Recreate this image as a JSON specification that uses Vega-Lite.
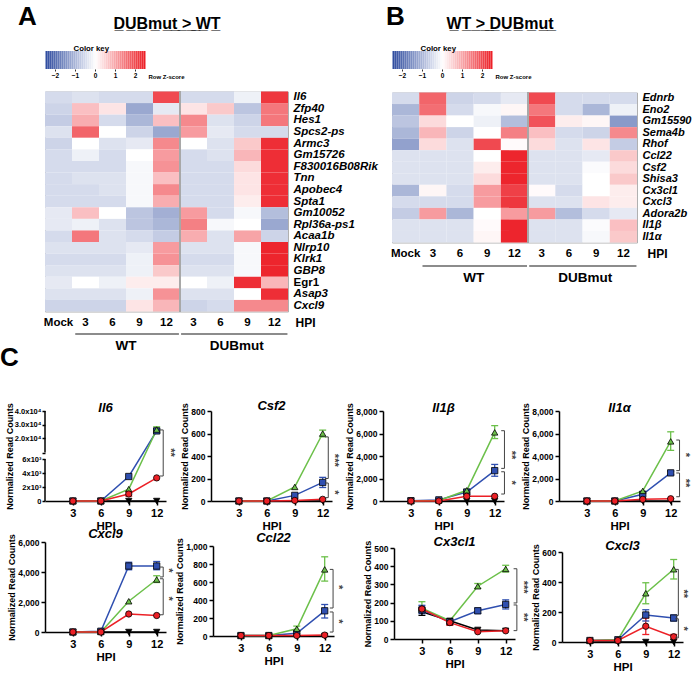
{
"$schema":"https://vega.github.io/schema/vega-lite/v6.json",
"padding":{"left":0,"top":4,"right":2,"bottom":0},
"columns":1,
"align":"none",
"spacing":-9,
"resolve":{"scale":{"color":"independent"}},
"datasets":{
"key":[{"z":-2.45},{"z":-2.35},{"z":-2.25},{"z":-2.15},{"z":-2.05},{"z":-1.95},{"z":-1.85},{"z":-1.75},{"z":-1.65},{"z":-1.55},{"z":-1.45},{"z":-1.35},{"z":-1.25},{"z":-1.15},{"z":-1.05},{"z":-0.95},{"z":-0.85},{"z":-0.75},{"z":-0.65},{"z":-0.55},{"z":-0.45},{"z":-0.35},{"z":-0.25},{"z":-0.15},{"z":-0.05},{"z":0.05},{"z":0.15},{"z":0.25},{"z":0.35},{"z":0.45},{"z":0.55},{"z":0.65},{"z":0.75},{"z":0.85},{"z":0.95},{"z":1.05},{"z":1.15},{"z":1.25},{"z":1.35},{"z":1.45},{"z":1.55},{"z":1.65},{"z":1.75},{"z":1.85},{"z":1.95},{"z":2.05},{"z":2.15},{"z":2.25},{"z":2.35},{"z":2.45}],
"grp":[{"lab":"WT","from":1.12,"to":4.96,"mid":3.0},{"lab":"DUBmut","from":5.04,"to":8.98,"mid":7.1}],
"axbrk":[{"v":0,"v2":6000},{"v":9700,"v2":40000}],
"hA":[
{"g":"Il6","M":-0.5,"W3":-0.4,"W6":-0.5,"W9":-0.5,"W12":2.0,"D3":-0.5,"D6":-0.5,"D9":-0.2,"D12":2.2},
{"g":"Zfp40","M":-0.6,"W3":0.7,"W6":0.3,"W9":-1.2,"W12":-0.3,"D3":0.3,"D6":0.6,"D9":-0.8,"D12":1.5},
{"g":"Hes1","M":-0.7,"W3":0.9,"W6":-0.5,"W9":-1.0,"W12":0.7,"D3":1.3,"D6":-0.4,"D9":-0.6,"D12":1.5},
{"g":"Spcs2-ps","M":-0.4,"W3":1.7,"W6":0.0,"W9":-0.6,"W12":-1.2,"D3":1.1,"D6":-0.3,"D9":-0.5,"D12":-0.5},
{"g":"Armc3","M":-0.6,"W3":0.0,"W6":-0.4,"W9":-0.3,"W12":1.3,"D3":0.0,"D6":-0.4,"D9":0.6,"D12":2.3},
{"g":"Gm15726","M":-0.5,"W3":-0.2,"W6":-0.5,"W9":0.0,"W12":1.1,"D3":-0.5,"D6":-0.4,"D9":0.8,"D12":2.3},
{"g":"F830016B08Rik","M":-0.5,"W3":-0.5,"W6":-0.5,"W9":-0.1,"W12":1.2,"D3":-0.5,"D6":-0.5,"D9":0.4,"D12":2.3},
{"g":"Tnn","M":-0.5,"W3":-0.4,"W6":-0.4,"W9":-0.1,"W12":0.7,"D3":-0.5,"D6":-0.5,"D9":0.3,"D12":2.3},
{"g":"Apobec4","M":-0.5,"W3":-0.5,"W6":-0.4,"W9":-0.1,"W12":1.3,"D3":-0.5,"D6":-0.5,"D9":0.3,"D12":2.3},
{"g":"Spta1","M":-0.5,"W3":-0.5,"W6":-0.5,"W9":-0.1,"W12":0.9,"D3":-0.5,"D6":-0.5,"D9":0.2,"D12":2.3},
{"g":"Gm10052","M":-0.3,"W3":0.7,"W6":0.0,"W9":-0.8,"W12":-1.1,"D3":1.1,"D6":-0.5,"D9":-0.1,"D12":-0.9},
{"g":"Rpl36a-ps1","M":-0.3,"W3":-0.2,"W6":-0.4,"W9":-0.8,"W12":-1.0,"D3":1.4,"D6":-0.1,"D9":0.0,"D12":-1.2},
{"g":"Acaa1b","M":-0.5,"W3":1.5,"W6":-0.4,"W9":-0.5,"W12":-0.7,"D3":0.9,"D6":-0.4,"D9":1.0,"D12":-0.6},
{"g":"Nlrp10","M":-0.4,"W3":-0.4,"W6":-0.4,"W9":-0.3,"W12":1.1,"D3":-0.4,"D6":-0.4,"D9":-0.1,"D12":2.4},
{"g":"Klrk1","M":-0.5,"W3":-0.5,"W6":-0.5,"W9":-0.2,"W12":1.2,"D3":-0.5,"D6":-0.5,"D9":-0.1,"D12":2.4},
{"g":"GBP8","M":-0.4,"W3":-0.4,"W6":-0.4,"W9":-0.2,"W12":0.6,"D3":-0.4,"D6":-0.4,"D9":-0.1,"D12":2.4},
{"g":"Egr1","M":-0.3,"W3":0.0,"W6":-0.2,"W9":0.2,"W12":0.2,"D3":0.0,"D6":-0.2,"D9":2.3,"D12":0.8},
{"g":"Asap3","M":-0.4,"W3":-0.4,"W6":-0.4,"W9":-0.2,"W12":1.2,"D3":-0.4,"D6":-0.4,"D9":0.0,"D12":2.3},
{"g":"Cxcl9","M":-0.6,"W3":-0.6,"W6":-0.6,"W9":0.3,"W12":0.8,"D3":-0.6,"D6":-0.5,"D9":1.3,"D12":1.3}],
"hB":[
{"g":"Ednrb","M":-0.5,"W3":1.7,"W6":-0.6,"W9":-0.5,"W12":-0.3,"D3":2.0,"D6":-0.5,"D9":-0.5,"D12":-0.5},
{"g":"Eno2","M":-1.0,"W3":1.6,"W6":-0.5,"W9":-0.1,"W12":0.1,"D3":1.5,"D6":-0.5,"D9":-1.0,"D12":-0.2},
{"g":"Gm15590","M":-0.8,"W3":0.4,"W6":0.0,"W9":-0.2,"W12":-0.9,"D3":1.9,"D6":0.2,"D9":0.1,"D12":-1.4},
{"g":"Sema4b","M":-1.0,"W3":0.8,"W6":-0.6,"W9":0.0,"W12":1.4,"D3":0.7,"D6":-0.5,"D9":-0.6,"D12":1.3},
{"g":"Rhof","M":-1.3,"W3":0.4,"W6":-0.4,"W9":2.0,"W12":0.05,"D3":0.4,"D6":-0.4,"D9":0.3,"D12":-0.7},
{"g":"Ccl22","M":-0.4,"W3":-0.4,"W6":-0.4,"W9":0.0,"W12":2.4,"D3":-0.4,"D6":-0.4,"D9":-0.3,"D12":0.6},
{"g":"Csf2","M":-0.4,"W3":-0.4,"W6":-0.4,"W9":0.2,"W12":2.4,"D3":-0.4,"D6":-0.4,"D9":-0.05,"D12":0.4},
{"g":"Shisa3","M":-0.4,"W3":-0.4,"W6":-0.4,"W9":0.4,"W12":2.4,"D3":-0.4,"D6":-0.4,"D9":0.0,"D12":0.6},
{"g":"Cx3cl1","M":-1.0,"W3":0.1,"W6":-0.5,"W9":1.1,"W12":2.1,"D3":0.05,"D6":-0.5,"D9":0.0,"D12":0.2},
{"g":"Cxcl3","M":-0.5,"W3":-0.5,"W6":-0.5,"W9":1.1,"W12":2.2,"D3":-0.4,"D6":-0.4,"D9":0.3,"D12":0.2},
{"g":"Adora2b","M":-0.7,"W3":1.1,"W6":-1.0,"W9":0.0,"W12":1.1,"D3":1.1,"D6":-0.9,"D9":-0.5,"D12":-0.3},
{"g":"Il1β","M":-0.4,"W3":-0.4,"W6":-0.4,"W9":0.05,"W12":2.4,"D3":-0.4,"D6":-0.4,"D9":-0.05,"D12":0.7},
{"g":"Il1α","M":-0.4,"W3":-0.4,"W6":-0.4,"W9":0.1,"W12":2.4,"D3":-0.4,"D6":-0.4,"D9":-0.1,"D12":0.6}],
"L":[
{"g":"Il6","k":"p","s":"Mock","h":3,"v":0},{"g":"Il6","k":"p","s":"Mock","h":6,"v":0},{"g":"Il6","k":"p","s":"Mock","h":9,"v":0},{"g":"Il6","k":"p","s":"Mock","h":12,"v":0},
{"g":"Il6","k":"p","s":"WT","h":3,"v":0},{"g":"Il6","k":"p","s":"WT","h":6,"v":0},{"g":"Il6","k":"p","s":"WT","h":9,"v":3500},{"g":"Il6","k":"p","s":"WT","h":12,"v":25500},
{"g":"Il6","k":"p","s":"DUBmut","h":3,"v":0},{"g":"Il6","k":"p","s":"DUBmut","h":6,"v":0},{"g":"Il6","k":"p","s":"DUBmut","h":9,"v":1700},{"g":"Il6","k":"p","s":"DUBmut","h":12,"v":26500},
{"g":"Il6","k":"p","s":"EndoUmut","h":3,"v":0},{"g":"Il6","k":"p","s":"EndoUmut","h":6,"v":0},{"g":"Il6","k":"p","s":"EndoUmut","h":9,"v":1000},{"g":"Il6","k":"p","s":"EndoUmut","h":12,"v":3300},
{"g":"Il6","k":"e","s":"WT","h":12,"v":24000,"v2":27000},{"g":"Il6","k":"e","s":"DUBmut","h":12,"v":25500,"v2":28500},{"g":"Il6","k":"e","s":"EndoUmut","h":9,"v":700,"v2":1300},
{"g":"Il6","k":"b","v":3570,"v2":26200,"m":9700,"lab":"**"},
{"g":"Csf2","k":"p","s":"Mock","h":3,"v":0},{"g":"Csf2","k":"p","s":"Mock","h":6,"v":0},{"g":"Csf2","k":"p","s":"Mock","h":9,"v":0},{"g":"Csf2","k":"p","s":"Mock","h":12,"v":0},
{"g":"Csf2","k":"p","s":"WT","h":3,"v":0},{"g":"Csf2","k":"p","s":"WT","h":6,"v":0},{"g":"Csf2","k":"p","s":"WT","h":9,"v":50},{"g":"Csf2","k":"p","s":"WT","h":12,"v":165},
{"g":"Csf2","k":"p","s":"DUBmut","h":3,"v":0},{"g":"Csf2","k":"p","s":"DUBmut","h":6,"v":0},{"g":"Csf2","k":"p","s":"DUBmut","h":9,"v":125},{"g":"Csf2","k":"p","s":"DUBmut","h":12,"v":600},
{"g":"Csf2","k":"p","s":"EndoUmut","h":3,"v":0},{"g":"Csf2","k":"p","s":"EndoUmut","h":6,"v":0},{"g":"Csf2","k":"p","s":"EndoUmut","h":9,"v":5},{"g":"Csf2","k":"p","s":"EndoUmut","h":12,"v":15},
{"g":"Csf2","k":"e","s":"WT","h":12,"v":120,"v2":210},{"g":"Csf2","k":"e","s":"DUBmut","h":12,"v":570,"v2":630},
{"g":"Csf2","k":"b","v":200,"v2":570,"m":362,"lab":"***"},{"g":"Csf2","k":"b","v":30,"v2":160,"m":77,"lab":"*"},
{"g":"Il1b","k":"p","s":"Mock","h":3,"v":0},{"g":"Il1b","k":"p","s":"Mock","h":6,"v":0},{"g":"Il1b","k":"p","s":"Mock","h":9,"v":0},{"g":"Il1b","k":"p","s":"Mock","h":12,"v":0},
{"g":"Il1b","k":"p","s":"WT","h":3,"v":30},{"g":"Il1b","k":"p","s":"WT","h":6,"v":100},{"g":"Il1b","k":"p","s":"WT","h":9,"v":800},{"g":"Il1b","k":"p","s":"WT","h":12,"v":2700},
{"g":"Il1b","k":"p","s":"DUBmut","h":3,"v":0},{"g":"Il1b","k":"p","s":"DUBmut","h":6,"v":50},{"g":"Il1b","k":"p","s":"DUBmut","h":9,"v":950},{"g":"Il1b","k":"p","s":"DUBmut","h":12,"v":6100},
{"g":"Il1b","k":"p","s":"EndoUmut","h":3,"v":0},{"g":"Il1b","k":"p","s":"EndoUmut","h":6,"v":0},{"g":"Il1b","k":"p","s":"EndoUmut","h":9,"v":420},{"g":"Il1b","k":"p","s":"EndoUmut","h":12,"v":420},
{"g":"Il1b","k":"e","s":"WT","h":12,"v":2200,"v2":3250},{"g":"Il1b","k":"e","s":"DUBmut","h":12,"v":5550,"v2":6700},{"g":"Il1b","k":"e","s":"WT","h":9,"v":600,"v2":1000},
{"g":"Il1b","k":"b","v":2900,"v2":6250,"m":4090,"lab":"**"},{"g":"Il1b","k":"b","v":620,"v2":2600,"m":1630,"lab":"*"},
{"g":"Il1a","k":"p","s":"Mock","h":3,"v":0},{"g":"Il1a","k":"p","s":"Mock","h":6,"v":0},{"g":"Il1a","k":"p","s":"Mock","h":9,"v":0},{"g":"Il1a","k":"p","s":"Mock","h":12,"v":0},
{"g":"Il1a","k":"p","s":"WT","h":3,"v":0},{"g":"Il1a","k":"p","s":"WT","h":6,"v":0},{"g":"Il1a","k":"p","s":"WT","h":9,"v":600},{"g":"Il1a","k":"p","s":"WT","h":12,"v":2500},
{"g":"Il1a","k":"p","s":"DUBmut","h":3,"v":0},{"g":"Il1a","k":"p","s":"DUBmut","h":6,"v":0},{"g":"Il1a","k":"p","s":"DUBmut","h":9,"v":900},{"g":"Il1a","k":"p","s":"DUBmut","h":12,"v":5300},
{"g":"Il1a","k":"p","s":"EndoUmut","h":3,"v":0},{"g":"Il1a","k":"p","s":"EndoUmut","h":6,"v":0},{"g":"Il1a","k":"p","s":"EndoUmut","h":9,"v":150},{"g":"Il1a","k":"p","s":"EndoUmut","h":12,"v":200},
{"g":"Il1a","k":"e","s":"WT","h":12,"v":2350,"v2":2650},{"g":"Il1a","k":"e","s":"DUBmut","h":12,"v":4500,"v2":6150},
{"g":"Il1a","k":"b","v":2700,"v2":5420,"m":4090,"lab":"*"},{"g":"Il1a","k":"b","v":380,"v2":2490,"m":1600,"lab":"**"},
{"g":"Cxcl9","k":"p","s":"Mock","h":3,"v":0},{"g":"Cxcl9","k":"p","s":"Mock","h":6,"v":0},{"g":"Cxcl9","k":"p","s":"Mock","h":9,"v":0},{"g":"Cxcl9","k":"p","s":"Mock","h":12,"v":0},
{"g":"Cxcl9","k":"p","s":"WT","h":3,"v":0},{"g":"Cxcl9","k":"p","s":"WT","h":6,"v":50},{"g":"Cxcl9","k":"p","s":"WT","h":9,"v":4400},{"g":"Cxcl9","k":"p","s":"WT","h":12,"v":4400},
{"g":"Cxcl9","k":"p","s":"DUBmut","h":3,"v":0},{"g":"Cxcl9","k":"p","s":"DUBmut","h":6,"v":0},{"g":"Cxcl9","k":"p","s":"DUBmut","h":9,"v":2050},{"g":"Cxcl9","k":"p","s":"DUBmut","h":12,"v":3500},
{"g":"Cxcl9","k":"p","s":"EndoUmut","h":3,"v":0},{"g":"Cxcl9","k":"p","s":"EndoUmut","h":6,"v":0},{"g":"Cxcl9","k":"p","s":"EndoUmut","h":9,"v":1200},{"g":"Cxcl9","k":"p","s":"EndoUmut","h":12,"v":1100},
{"g":"Cxcl9","k":"e","s":"WT","h":9,"v":4150,"v2":4650},{"g":"Cxcl9","k":"e","s":"WT","h":12,"v":4150,"v2":4700},{"g":"Cxcl9","k":"e","s":"DUBmut","h":12,"v":3300,"v2":3750},
{"g":"Cxcl9","k":"b","v":3670,"v2":4330,"m":4100,"lab":"*"},{"g":"Cxcl9","k":"b","v":1150,"v2":3550,"m":2220,"lab":"*"},
{"g":"Ccl22","k":"p","s":"Mock","h":3,"v":0},{"g":"Ccl22","k":"p","s":"Mock","h":6,"v":0},{"g":"Ccl22","k":"p","s":"Mock","h":9,"v":0},{"g":"Ccl22","k":"p","s":"Mock","h":12,"v":0},
{"g":"Ccl22","k":"p","s":"WT","h":3,"v":5},{"g":"Ccl22","k":"p","s":"WT","h":6,"v":5},{"g":"Ccl22","k":"p","s":"WT","h":9,"v":30},{"g":"Ccl22","k":"p","s":"WT","h":12,"v":280},
{"g":"Ccl22","k":"p","s":"DUBmut","h":3,"v":5},{"g":"Ccl22","k":"p","s":"DUBmut","h":6,"v":5},{"g":"Ccl22","k":"p","s":"DUBmut","h":9,"v":80},{"g":"Ccl22","k":"p","s":"DUBmut","h":12,"v":740},
{"g":"Ccl22","k":"p","s":"EndoUmut","h":3,"v":5},{"g":"Ccl22","k":"p","s":"EndoUmut","h":6,"v":5},{"g":"Ccl22","k":"p","s":"EndoUmut","h":9,"v":5},{"g":"Ccl22","k":"p","s":"EndoUmut","h":12,"v":10},
{"g":"Ccl22","k":"e","s":"WT","h":12,"v":200,"v2":350},{"g":"Ccl22","k":"e","s":"DUBmut","h":12,"v":610,"v2":880},{"g":"Ccl22","k":"e","s":"DUBmut","h":9,"v":50,"v2":110},
{"g":"Ccl22","k":"b","v":311,"v2":740,"m":544,"lab":"*"},{"g":"Ccl22","k":"b","v":44,"v2":267,"m":162,"lab":"*"},
{"g":"Cx3cl1","k":"p","s":"Mock","h":3,"v":150},{"g":"Cx3cl1","k":"p","s":"Mock","h":6,"v":100},{"g":"Cx3cl1","k":"p","s":"Mock","h":9,"v":50},{"g":"Cx3cl1","k":"p","s":"Mock","h":12,"v":45},
{"g":"Cx3cl1","k":"p","s":"WT","h":3,"v":160},{"g":"Cx3cl1","k":"p","s":"WT","h":6,"v":95},{"g":"Cx3cl1","k":"p","s":"WT","h":9,"v":155},{"g":"Cx3cl1","k":"p","s":"WT","h":12,"v":190},
{"g":"Cx3cl1","k":"p","s":"DUBmut","h":3,"v":170},{"g":"Cx3cl1","k":"p","s":"DUBmut","h":6,"v":100},{"g":"Cx3cl1","k":"p","s":"DUBmut","h":9,"v":290},{"g":"Cx3cl1","k":"p","s":"DUBmut","h":12,"v":385},
{"g":"Cx3cl1","k":"p","s":"EndoUmut","h":3,"v":165},{"g":"Cx3cl1","k":"p","s":"EndoUmut","h":6,"v":90},{"g":"Cx3cl1","k":"p","s":"EndoUmut","h":9,"v":40},{"g":"Cx3cl1","k":"p","s":"EndoUmut","h":12,"v":45},
{"g":"Cx3cl1","k":"e","s":"Mock","h":3,"v":130,"v2":170},{"g":"Cx3cl1","k":"e","s":"WT","h":3,"v":140,"v2":185},{"g":"Cx3cl1","k":"e","s":"DUBmut","h":3,"v":150,"v2":205},{"g":"Cx3cl1","k":"e","s":"EndoUmut","h":6,"v":75,"v2":105},{"g":"Cx3cl1","k":"e","s":"WT","h":9,"v":140,"v2":170},{"g":"Cx3cl1","k":"e","s":"WT","h":12,"v":165,"v2":215},{"g":"Cx3cl1","k":"e","s":"DUBmut","h":9,"v":278,"v2":305},{"g":"Cx3cl1","k":"e","s":"DUBmut","h":12,"v":368,"v2":405},
{"g":"Cx3cl1","k":"b","v":198,"v2":386,"m":285,"lab":"***"},{"g":"Cx3cl1","k":"b","v":46,"v2":187,"m":120,"lab":"**"},
{"g":"Cxcl3","k":"p","s":"Mock","h":3,"v":0},{"g":"Cxcl3","k":"p","s":"Mock","h":6,"v":0},{"g":"Cxcl3","k":"p","s":"Mock","h":9,"v":0},{"g":"Cxcl3","k":"p","s":"Mock","h":12,"v":0},
{"g":"Cxcl3","k":"p","s":"WT","h":3,"v":10},{"g":"Cxcl3","k":"p","s":"WT","h":6,"v":15},{"g":"Cxcl3","k":"p","s":"WT","h":9,"v":180},{"g":"Cxcl3","k":"p","s":"WT","h":12,"v":160},
{"g":"Cxcl3","k":"p","s":"DUBmut","h":3,"v":10},{"g":"Cxcl3","k":"p","s":"DUBmut","h":6,"v":15},{"g":"Cxcl3","k":"p","s":"DUBmut","h":9,"v":325},{"g":"Cxcl3","k":"p","s":"DUBmut","h":12,"v":485},
{"g":"Cxcl3","k":"p","s":"EndoUmut","h":3,"v":10},{"g":"Cxcl3","k":"p","s":"EndoUmut","h":6,"v":10},{"g":"Cxcl3","k":"p","s":"EndoUmut","h":9,"v":105},{"g":"Cxcl3","k":"p","s":"EndoUmut","h":12,"v":35},
{"g":"Cxcl3","k":"e","s":"WT","h":9,"v":140,"v2":215},{"g":"Cxcl3","k":"e","s":"WT","h":12,"v":140,"v2":180},{"g":"Cxcl3","k":"e","s":"DUBmut","h":9,"v":255,"v2":395},{"g":"Cxcl3","k":"e","s":"DUBmut","h":12,"v":420,"v2":550},{"g":"Cxcl3","k":"e","s":"EndoUmut","h":9,"v":50,"v2":160},{"g":"Cxcl3","k":"e","s":"EndoUmut","h":12,"v":20,"v2":50},
{"g":"Cxcl3","k":"b","v":177,"v2":484,"m":322,"lab":"**"},{"g":"Cxcl3","k":"b","v":27,"v2":155,"m":89,"lab":"*"}
]
},
"concat":[
{"spacing":8,"hconcat":[
 {"title":{"text":"A","anchor":"start","frame":"group","fontSize":26,"fontStyle":"normal","dx":-27,"offset":-14},
  "bounds":"flush","spacing":22.5,
  "vconcat":[
   {"width":100,"height":18,"data":{"name":"key"},
    "title":{"text":"D\u0332U\u0332B\u0332m\u0332u\u0332t\u0332 \u0332>\u0332 \u0332W\u0332T\u0332","anchor":"middle","frame":"group","dx":72,"fontSize":16,"fontStyle":"normal","offset":12},
    "mark":"rect",
    "encoding":{
     "x":{"field":"z","type":"quantitative","bin":{"step":0.1,"extent":[-2.5,2.5]},"axis":{"values":[-2,-1,0,1,2],"format":"d","domain":false,"tickSize":2,"tickWidth":0.8,"labelFontSize":6.5,"labelFont":"Liberation Sans","labelPadding":1,"title":"Color key","titleFont":"Liberation Sans","titleFontSize":7.8,"titleX":28,"titleY":-25,"titleAlign":"left"}},
     "y":{"datum":"k","type":"nominal","axis":{"orient":"right","labels":false,"ticks":false,"domain":false,"title":"Row Z-score","titleAngle":0,"titleAlign":"left","titleBaseline":"middle","titleX":3,"titleY":25,"titleFontSize":6,"titleFont":"Liberation Sans"}},
     "color":{"field":"z","type":"quantitative","scale":{"domain":[-2.5,0,2.5],"range":["#2d4a9e","#ffffff","#ec1c24"],"interpolate":"rgb","clamp":true},"legend":null}}},
   {"width":243,"height":220,"data":{"name":"hA"},"view":{"stroke":"#b0b0b0"},
    "transform":[{"fold":["M","W3","W6","W9","W12","D3","D6","D9","D12"],"as":["c","z"]}],
    "layer":[
     {"mark":"rect","encoding":{
      "x":{"field":"c","type":"ordinal","sort":["M","W3","W6","W9","W12","D3","D6","D9","D12"],"scale":{"paddingInner":0,"paddingOuter":0},"axis":{"labelExpr":"datum.label=='M'?'Mock':slice(datum.label,1)","labelAngle":0,"domain":false,"ticks":false,"labelFontSize":11.5,"labelPadding":5,"title":"HPI","titleFontSize":12,"titleX":250,"titleY":11,"titleAlign":"left","titleBaseline":"middle"}},
      "y":{"field":"g","type":"ordinal","sort":null,"axis":{"orient":"right","domain":false,"ticks":false,"title":null,"labelFont":"Liberation Sans","labelFontSize":11.5,"labelPadding":5,"labelFontStyle":{"condition":{"test":"datum.value=='Egr1'","value":"normal"},"value":"italic"}}},
      "color":{"field":"z","type":"quantitative","scale":{"domain":[-2.5,0,2.5],"range":["#2d4a9e","#ffffff","#ec1c24"],"interpolate":"rgb","clamp":true},"legend":null}}},
     {"mark":{"type":"rule","color":"#a8a8a8","strokeWidth":1.5},"encoding":{"x":{"datum":"D3","type":"ordinal","bandPosition":0}}}
    ]},
   {"width":243,"height":16,"data":{"name":"grp"},
    "layer":[
     {"mark":{"type":"rule","color":"#666","strokeWidth":1.3},"encoding":{"x":{"field":"from","type":"quantitative","scale":{"domain":[0,9]},"axis":null},"x2":{"field":"to"},"y":{"datum":1,"type":"quantitative","scale":{"domain":[0,1]},"axis":null}}},
     {"mark":{"type":"text","fontSize":13.5,"fontWeight":"bold","baseline":"middle"},"encoding":{"x":{"field":"mid","type":"quantitative"},"y":{"datum":0.22,"type":"quantitative"},"text":{"field":"lab"}}}
    ]}
  ]},
 {"title":{"text":"B","anchor":"start","frame":"group","fontSize":26,"fontStyle":"normal","dx":-6,"offset":-14},
  "bounds":"flush","spacing":23.5,
  "vconcat":[
   {"width":100,"height":18,"data":{"name":"key"},
    "title":{"text":"W\u0332T\u0332 \u0332>\u0332 \u0332D\u0332U\u0332B\u0332m\u0332u\u0332t\u0332","anchor":"middle","frame":"group","dx":58,"fontSize":16,"fontStyle":"normal","offset":12},
    "mark":"rect",
    "encoding":{
     "x":{"field":"z","type":"quantitative","bin":{"step":0.1,"extent":[-2.5,2.5]},"axis":{"values":[-2,-1,0,1,2],"format":"d","domain":false,"tickSize":2,"tickWidth":0.8,"labelFontSize":6.5,"labelFont":"Liberation Sans","labelPadding":1,"title":"Color key","titleFont":"Liberation Sans","titleFontSize":7.8,"titleX":28,"titleY":-25,"titleAlign":"left"}},
     "y":{"datum":"k","type":"nominal","axis":{"orient":"right","labels":false,"ticks":false,"domain":false,"title":"Row Z-score","titleAngle":0,"titleAlign":"left","titleBaseline":"middle","titleX":3,"titleY":25,"titleFontSize":6,"titleFont":"Liberation Sans"}},
     "color":{"field":"z","type":"quantitative","scale":{"domain":[-2.5,0,2.5],"range":["#2d4a9e","#ffffff","#ec1c24"],"interpolate":"rgb","clamp":true},"legend":null}}},
   {"width":245,"height":150,"data":{"name":"hB"},"view":{"stroke":"#b0b0b0"},
    "transform":[{"fold":["M","W3","W6","W9","W12","D3","D6","D9","D12"],"as":["c","z"]}],
    "layer":[
     {"mark":"rect","encoding":{
      "x":{"field":"c","type":"ordinal","sort":["M","W3","W6","W9","W12","D3","D6","D9","D12"],"scale":{"paddingInner":0,"paddingOuter":0},"axis":{"labelExpr":"datum.label=='M'?'Mock':slice(datum.label,1)","labelAngle":0,"domain":false,"ticks":false,"labelFontSize":11.5,"labelPadding":5,"title":"HPI","titleFontSize":12,"titleX":255,"titleY":11,"titleAlign":"left","titleBaseline":"middle"}},
      "y":{"field":"g","type":"ordinal","sort":null,"axis":{"orient":"right","domain":false,"ticks":false,"title":null,"labelFont":"Liberation Sans","labelFontSize":11,"labelPadding":5,"labelFontStyle":"italic"}},
      "color":{"field":"z","type":"quantitative","scale":{"domain":[-2.5,0,2.5],"range":["#2d4a9e","#ffffff","#ec1c24"],"interpolate":"rgb","clamp":true},"legend":null}}},
     {"mark":{"type":"rule","color":"#a8a8a8","strokeWidth":1.5},"encoding":{"x":{"datum":"D3","type":"ordinal","bandPosition":0}}}
    ]},
   {"width":245,"height":16,"data":{"name":"grp"},
    "layer":[
     {"mark":{"type":"rule","color":"#666","strokeWidth":1.3},"encoding":{"x":{"field":"from","type":"quantitative","scale":{"domain":[0,9]},"axis":null},"x2":{"field":"to"},"y":{"datum":1,"type":"quantitative","scale":{"domain":[0,1]},"axis":null}}},
     {"mark":{"type":"text","fontSize":13.5,"fontWeight":"bold","baseline":"middle"},"encoding":{"x":{"field":"mid","type":"quantitative"},"y":{"datum":0.22,"type":"quantitative"},"text":{"field":"lab"}}}
    ]}
  ]}
 ]},
{"title":{"text":"C","anchor":"start","frame":"group","fontSize":26,"fontStyle":"normal","dx":-45,"offset":29},
 "spacing":-5,
 "vconcat":[
  {"spacing":4,"hconcat":[
   {"width":121,"height":90,"title":{"text":"Il6","offset":-12},"data":{"name":"L"},"transform":[{"filter":"datum.g=='Il6'"}],
    "encoding":{"y":{"field":"v","type":"quantitative","scale":{"domain":[0,6000,9700,40000],"range":[90,48,41.6,0],"nice":false,"zero":false},"axis":{"values":[0,2000,4000,6000,9700,20000,30000,40000],"domain":false,"labelFontSize":7.5,"labelPadding":1,"tickSize":3,"titlePadding":0,"labelExpr":"datum.value==0?'0':datum.value==9700?'':datum.value<10000?(datum.value/1000)+'x10³':format(datum.value/10000,'.1f')+'x10⁴'","title":"Normalized Read Counts"}}},
    "layer":[
     {"data":{"name":"axbrk"},"mark":{"type":"rule","color":"black","strokeWidth":1.5},"encoding":{"x":{"datum":0,"type":"quantitative"},"y2":{"field":"v2"}}},
     {"transform":[{"filter":"datum.k=='p'"}],"mark":{"type":"line","strokeWidth":1.5},"encoding":{"x":{"field":"h","type":"quantitative","scale":{"domain":[0,13],"nice":false,"zero":false},"axis":{"values":[3,6,9,12],"title":"HPI"}},"stroke":{"field":"s","type":"nominal","legend":null,"scale":{"domain":["Mock","WT","DUBmut","EndoUmut"]}}}},
     {"transform":[{"filter":"datum.k=='e'"}],"mark":{"type":"rule","strokeWidth":1.3},"encoding":{"x":{"field":"h","type":"quantitative","title":"HPI"},"y2":{"field":"v2"},"stroke":{"field":"s","type":"nominal","legend":null,"scale":{"domain":["Mock","WT","DUBmut","EndoUmut"]}}}},
     {"transform":[{"filter":"datum.k=='e'"}],"mark":{"type":"tick","orient":"horizontal","size":7,"thickness":1.3,"opacity":1},"encoding":{"x":{"field":"h","type":"quantitative","title":"HPI"},"fill":{"field":"s","type":"nominal","legend":null,"scale":{"domain":["Mock","WT","DUBmut","EndoUmut"]}}}},
     {"transform":[{"filter":"datum.k=='e'"}],"mark":{"type":"tick","orient":"horizontal","size":7,"thickness":1.3,"opacity":1},"encoding":{"x":{"field":"h","type":"quantitative","title":"HPI"},"y":{"field":"v2","type":"quantitative","title":"Normalized Read Counts"},"fill":{"field":"s","type":"nominal","legend":null,"scale":{"domain":["Mock","WT","DUBmut","EndoUmut"]}}}},
     {"transform":[{"filter":"datum.k=='p'"}],"mark":{"type":"point","filled":true,"size":40,"stroke":"black","strokeWidth":0.8,"opacity":1},"encoding":{"x":{"field":"h","type":"quantitative","title":"HPI"},"color":{"field":"s","type":"nominal","title":null,"scale":{"domain":["Mock","WT","DUBmut","EndoUmut"]}},"shape":{"field":"s","type":"nominal","title":null,"scale":{"domain":["Mock","WT","DUBmut","EndoUmut"]}}}},
     {"transform":[{"filter":"datum.k=='b'"}],"mark":{"type":"rule","color":"#444"},"encoding":{"x":{"datum":12.7,"type":"quantitative"},"y2":{"field":"v2"}}},
     {"transform":[{"filter":"datum.k=='b'"}],"mark":{"type":"rule","color":"#444"},"encoding":{"x":{"datum":12.35,"type":"quantitative"},"x2":{"datum":12.7}}},
     {"transform":[{"filter":"datum.k=='b'"}],"mark":{"type":"rule","color":"#444"},"encoding":{"x":{"datum":12.35,"type":"quantitative"},"x2":{"datum":12.7},"y":{"field":"v2","type":"quantitative","title":"Normalized Read Counts"}}},
     {"transform":[{"filter":"datum.k=='b'"}],"mark":{"type":"text","angle":90,"fontSize":11,"fontWeight":"bold","color":"#444"},"encoding":{"x":{"datum":13.4,"type":"quantitative"},"y":{"field":"m","type":"quantitative","title":"Normalized Read Counts"},"text":{"field":"lab"}}}
    ]},
   {"width":121,"height":90,"title":{"text":"Csf2","offset":-10},"data":{"name":"L"},"transform":[{"filter":"datum.g=='Csf2'"}],
    "encoding":{"y":{"field":"v","type":"quantitative","scale":{"domain":[0,800],"nice":false},"axis":{"values":[0,200,400,600,800],"labelExpr":"format(datum.value,',')","title":"Normalized Read Counts"}}},
    "layer":[
     {"transform":[{"filter":"datum.k=='p'"}],"mark":{"type":"line","strokeWidth":1.5},"encoding":{"x":{"field":"h","type":"quantitative","scale":{"domain":[0,13],"nice":false,"zero":false},"axis":{"values":[3,6,9,12],"title":"HPI"}},"stroke":{"field":"s","type":"nominal","legend":null,"scale":{"domain":["Mock","WT","DUBmut","EndoUmut"]}}}},
     {"transform":[{"filter":"datum.k=='e'"}],"mark":{"type":"rule","strokeWidth":1.3},"encoding":{"x":{"field":"h","type":"quantitative","title":"HPI"},"y2":{"field":"v2"},"stroke":{"field":"s","type":"nominal","legend":null,"scale":{"domain":["Mock","WT","DUBmut","EndoUmut"]}}}},
     {"transform":[{"filter":"datum.k=='e'"}],"mark":{"type":"tick","orient":"horizontal","size":7,"thickness":1.3,"opacity":1},"encoding":{"x":{"field":"h","type":"quantitative","title":"HPI"},"fill":{"field":"s","type":"nominal","legend":null,"scale":{"domain":["Mock","WT","DUBmut","EndoUmut"]}}}},
     {"transform":[{"filter":"datum.k=='e'"}],"mark":{"type":"tick","orient":"horizontal","size":7,"thickness":1.3,"opacity":1},"encoding":{"x":{"field":"h","type":"quantitative","title":"HPI"},"y":{"field":"v2","type":"quantitative","title":"Normalized Read Counts"},"fill":{"field":"s","type":"nominal","legend":null,"scale":{"domain":["Mock","WT","DUBmut","EndoUmut"]}}}},
     {"transform":[{"filter":"datum.k=='p'"}],"mark":{"type":"point","filled":true,"size":40,"stroke":"black","strokeWidth":0.8,"opacity":1},"encoding":{"x":{"field":"h","type":"quantitative","title":"HPI"},"color":{"field":"s","type":"nominal","title":null,"scale":{"domain":["Mock","WT","DUBmut","EndoUmut"]}},"shape":{"field":"s","type":"nominal","title":null,"scale":{"domain":["Mock","WT","DUBmut","EndoUmut"]}}}},
     {"transform":[{"filter":"datum.k=='b'"}],"mark":{"type":"rule","color":"#444"},"encoding":{"x":{"datum":12.6,"type":"quantitative"},"y2":{"field":"v2"}}},
     {"transform":[{"filter":"datum.k=='b'"}],"mark":{"type":"rule","color":"#444"},"encoding":{"x":{"datum":12.25,"type":"quantitative"},"x2":{"datum":12.6}}},
     {"transform":[{"filter":"datum.k=='b'"}],"mark":{"type":"rule","color":"#444"},"encoding":{"x":{"datum":12.25,"type":"quantitative"},"x2":{"datum":12.6},"y":{"field":"v2","type":"quantitative","title":"Normalized Read Counts"}}},
     {"transform":[{"filter":"datum.k=='b'"}],"mark":{"type":"text","angle":90,"fontSize":11,"fontWeight":"bold","color":"#444"},"encoding":{"x":{"datum":13.25,"type":"quantitative"},"y":{"field":"m","type":"quantitative","title":"Normalized Read Counts"},"text":{"field":"lab"}}}
    ]},
   {"width":121,"height":90,"title":{"text":"Il1β","offset":-12},"data":{"name":"L"},"transform":[{"filter":"datum.g=='Il1b'"}],
    "encoding":{"y":{"field":"v","type":"quantitative","scale":{"domain":[0,8000],"nice":false},"axis":{"values":[0,2000,4000,6000,8000],"labelExpr":"format(datum.value,',')","title":"Normalized Read Counts"}}},
    "layer":[
     {"transform":[{"filter":"datum.k=='p'"}],"mark":{"type":"line","strokeWidth":1.5},"encoding":{"x":{"field":"h","type":"quantitative","scale":{"domain":[0,13],"nice":false,"zero":false},"axis":{"values":[3,6,9,12],"title":"HPI"}},"stroke":{"field":"s","type":"nominal","legend":null,"scale":{"domain":["Mock","WT","DUBmut","EndoUmut"]}}}},
     {"transform":[{"filter":"datum.k=='e'"}],"mark":{"type":"rule","strokeWidth":1.3},"encoding":{"x":{"field":"h","type":"quantitative","title":"HPI"},"y2":{"field":"v2"},"stroke":{"field":"s","type":"nominal","legend":null,"scale":{"domain":["Mock","WT","DUBmut","EndoUmut"]}}}},
     {"transform":[{"filter":"datum.k=='e'"}],"mark":{"type":"tick","orient":"horizontal","size":7,"thickness":1.3,"opacity":1},"encoding":{"x":{"field":"h","type":"quantitative","title":"HPI"},"fill":{"field":"s","type":"nominal","legend":null,"scale":{"domain":["Mock","WT","DUBmut","EndoUmut"]}}}},
     {"transform":[{"filter":"datum.k=='e'"}],"mark":{"type":"tick","orient":"horizontal","size":7,"thickness":1.3,"opacity":1},"encoding":{"x":{"field":"h","type":"quantitative","title":"HPI"},"y":{"field":"v2","type":"quantitative","title":"Normalized Read Counts"},"fill":{"field":"s","type":"nominal","legend":null,"scale":{"domain":["Mock","WT","DUBmut","EndoUmut"]}}}},
     {"transform":[{"filter":"datum.k=='p'"}],"mark":{"type":"point","filled":true,"size":40,"stroke":"black","strokeWidth":0.8,"opacity":1},"encoding":{"x":{"field":"h","type":"quantitative","title":"HPI"},"color":{"field":"s","type":"nominal","title":null,"scale":{"domain":["Mock","WT","DUBmut","EndoUmut"]}},"shape":{"field":"s","type":"nominal","title":null,"scale":{"domain":["Mock","WT","DUBmut","EndoUmut"]}}}},
     {"transform":[{"filter":"datum.k=='b'"}],"mark":{"type":"rule","color":"#444"},"encoding":{"x":{"datum":13.05,"type":"quantitative"},"y2":{"field":"v2"}}},
     {"transform":[{"filter":"datum.k=='b'"}],"mark":{"type":"rule","color":"#444"},"encoding":{"x":{"datum":12.7,"type":"quantitative"},"x2":{"datum":13.05}}},
     {"transform":[{"filter":"datum.k=='b'"}],"mark":{"type":"rule","color":"#444"},"encoding":{"x":{"datum":12.7,"type":"quantitative"},"x2":{"datum":13.05},"y":{"field":"v2","type":"quantitative","title":"Normalized Read Counts"}}},
     {"transform":[{"filter":"datum.k=='b'"}],"mark":{"type":"text","angle":90,"fontSize":11,"fontWeight":"bold","color":"#444"},"encoding":{"x":{"datum":13.7,"type":"quantitative"},"y":{"field":"m","type":"quantitative","title":"Normalized Read Counts"},"text":{"field":"lab"}}}
    ]},
   {"width":121,"height":90,"title":{"text":"Il1α","offset":-12},"data":{"name":"L"},"transform":[{"filter":"datum.g=='Il1a'"}],
    "encoding":{"y":{"field":"v","type":"quantitative","scale":{"domain":[0,8000],"nice":false},"axis":{"values":[0,2000,4000,6000,8000],"labelExpr":"format(datum.value,',')","title":"Normalized Read Counts"}}},
    "layer":[
     {"transform":[{"filter":"datum.k=='p'"}],"mark":{"type":"line","strokeWidth":1.5},"encoding":{"x":{"field":"h","type":"quantitative","scale":{"domain":[0,13],"nice":false,"zero":false},"axis":{"values":[3,6,9,12],"title":"HPI"}},"stroke":{"field":"s","type":"nominal","legend":null,"scale":{"domain":["Mock","WT","DUBmut","EndoUmut"]}}}},
     {"transform":[{"filter":"datum.k=='e'"}],"mark":{"type":"rule","strokeWidth":1.3},"encoding":{"x":{"field":"h","type":"quantitative","title":"HPI"},"y2":{"field":"v2"},"stroke":{"field":"s","type":"nominal","legend":null,"scale":{"domain":["Mock","WT","DUBmut","EndoUmut"]}}}},
     {"transform":[{"filter":"datum.k=='e'"}],"mark":{"type":"tick","orient":"horizontal","size":7,"thickness":1.3,"opacity":1},"encoding":{"x":{"field":"h","type":"quantitative","title":"HPI"},"fill":{"field":"s","type":"nominal","legend":null,"scale":{"domain":["Mock","WT","DUBmut","EndoUmut"]}}}},
     {"transform":[{"filter":"datum.k=='e'"}],"mark":{"type":"tick","orient":"horizontal","size":7,"thickness":1.3,"opacity":1},"encoding":{"x":{"field":"h","type":"quantitative","title":"HPI"},"y":{"field":"v2","type":"quantitative","title":"Normalized Read Counts"},"fill":{"field":"s","type":"nominal","legend":null,"scale":{"domain":["Mock","WT","DUBmut","EndoUmut"]}}}},
     {"transform":[{"filter":"datum.k=='p'"}],"mark":{"type":"point","filled":true,"size":40,"stroke":"black","strokeWidth":0.8,"opacity":1},"encoding":{"x":{"field":"h","type":"quantitative","title":"HPI"},"color":{"field":"s","type":"nominal","title":null,"scale":{"domain":["Mock","WT","DUBmut","EndoUmut"]}},"shape":{"field":"s","type":"nominal","title":null,"scale":{"domain":["Mock","WT","DUBmut","EndoUmut"]}}}},
     {"transform":[{"filter":"datum.k=='b'"}],"mark":{"type":"rule","color":"#444"},"encoding":{"x":{"datum":12.95,"type":"quantitative"},"y2":{"field":"v2"}}},
     {"transform":[{"filter":"datum.k=='b'"}],"mark":{"type":"rule","color":"#444"},"encoding":{"x":{"datum":12.6,"type":"quantitative"},"x2":{"datum":12.95}}},
     {"transform":[{"filter":"datum.k=='b'"}],"mark":{"type":"rule","color":"#444"},"encoding":{"x":{"datum":12.6,"type":"quantitative"},"x2":{"datum":12.95},"y":{"field":"v2","type":"quantitative","title":"Normalized Read Counts"}}},
     {"transform":[{"filter":"datum.k=='b'"}],"mark":{"type":"text","angle":90,"fontSize":11,"fontWeight":"bold","color":"#444"},"encoding":{"x":{"datum":13.5,"type":"quantitative"},"y":{"field":"m","type":"quantitative","title":"Normalized Read Counts"},"text":{"field":"lab"}}}
    ]}
  ]},
  {"spacing":19,"hconcat":[
   {"spacing":1,"hconcat":[
   {"width":121,"height":100,"title":{"text":"Cxcl9","offset":-7},"data":{"name":"L"},"transform":[{"filter":"datum.g=='Cxcl9'"}],
    "encoding":{"y":{"field":"v","type":"quantitative","scale":{"domain":[0,6000],"range":[90,0],"nice":false},"axis":{"values":[0,2000,4000,6000],"labelExpr":"format(datum.value,',')","title":"Normalized Read Counts"}}},
    "layer":[
     {"transform":[{"filter":"datum.k=='p'"}],"mark":{"type":"line","strokeWidth":1.5},"encoding":{"x":{"field":"h","type":"quantitative","scale":{"domain":[0,13],"nice":false,"zero":false},"axis":{"values":[3,6,9,12],"title":"HPI","offset":-10}},"stroke":{"field":"s","type":"nominal","legend":null,"scale":{"domain":["Mock","WT","DUBmut","EndoUmut"]}}}},
     {"transform":[{"filter":"datum.k=='e'"}],"mark":{"type":"rule","strokeWidth":1.3},"encoding":{"x":{"field":"h","type":"quantitative","title":"HPI"},"y2":{"field":"v2"},"stroke":{"field":"s","type":"nominal","legend":null,"scale":{"domain":["Mock","WT","DUBmut","EndoUmut"]}}}},
     {"transform":[{"filter":"datum.k=='e'"}],"mark":{"type":"tick","orient":"horizontal","size":7,"thickness":1.3,"opacity":1},"encoding":{"x":{"field":"h","type":"quantitative","title":"HPI"},"fill":{"field":"s","type":"nominal","legend":null,"scale":{"domain":["Mock","WT","DUBmut","EndoUmut"]}}}},
     {"transform":[{"filter":"datum.k=='e'"}],"mark":{"type":"tick","orient":"horizontal","size":7,"thickness":1.3,"opacity":1},"encoding":{"x":{"field":"h","type":"quantitative","title":"HPI"},"y":{"field":"v2","type":"quantitative","title":"Normalized Read Counts"},"fill":{"field":"s","type":"nominal","legend":null,"scale":{"domain":["Mock","WT","DUBmut","EndoUmut"]}}}},
     {"transform":[{"filter":"datum.k=='p'"}],"mark":{"type":"point","filled":true,"size":40,"stroke":"black","strokeWidth":0.8,"opacity":1},"encoding":{"x":{"field":"h","type":"quantitative","title":"HPI"},"color":{"field":"s","type":"nominal","title":null,"scale":{"domain":["Mock","WT","DUBmut","EndoUmut"]}},"shape":{"field":"s","type":"nominal","title":null,"scale":{"domain":["Mock","WT","DUBmut","EndoUmut"]}}}},
     {"transform":[{"filter":"datum.k=='b'"}],"mark":{"type":"rule","color":"#444"},"encoding":{"x":{"datum":12.7,"type":"quantitative"},"y2":{"field":"v2"}}},
     {"transform":[{"filter":"datum.k=='b'"}],"mark":{"type":"rule","color":"#444"},"encoding":{"x":{"datum":12.35,"type":"quantitative"},"x2":{"datum":12.7}}},
     {"transform":[{"filter":"datum.k=='b'"}],"mark":{"type":"rule","color":"#444"},"encoding":{"x":{"datum":12.35,"type":"quantitative"},"x2":{"datum":12.7},"y":{"field":"v2","type":"quantitative","title":"Normalized Read Counts"}}},
     {"transform":[{"filter":"datum.k=='b'"}],"mark":{"type":"text","angle":90,"fontSize":11,"fontWeight":"bold","color":"#444"},"encoding":{"x":{"datum":13.2,"type":"quantitative"},"y":{"field":"m","type":"quantitative","title":"Normalized Read Counts"},"text":{"field":"lab"}}}
    ]},
   {"width":121,"height":100,"title":{"text":"Ccl22","offset":-7},"data":{"name":"L"},"transform":[{"filter":"datum.g=='Ccl22'"}],
    "encoding":{"y":{"field":"v","type":"quantitative","scale":{"domain":[0,1000],"range":[94,4],"nice":false},"axis":{"values":[0,200,400,600,800,1000],"labelExpr":"format(datum.value,',')","title":"Normalized Read Counts"}}},
    "layer":[
     {"transform":[{"filter":"datum.k=='p'"}],"mark":{"type":"line","strokeWidth":1.5},"encoding":{"x":{"field":"h","type":"quantitative","scale":{"domain":[0,13],"nice":false,"zero":false},"axis":{"values":[3,6,9,12],"title":"HPI","offset":-6}},"stroke":{"field":"s","type":"nominal","legend":null,"scale":{"domain":["Mock","WT","DUBmut","EndoUmut"]}}}},
     {"transform":[{"filter":"datum.k=='e'"}],"mark":{"type":"rule","strokeWidth":1.3},"encoding":{"x":{"field":"h","type":"quantitative","title":"HPI"},"y2":{"field":"v2"},"stroke":{"field":"s","type":"nominal","legend":null,"scale":{"domain":["Mock","WT","DUBmut","EndoUmut"]}}}},
     {"transform":[{"filter":"datum.k=='e'"}],"mark":{"type":"tick","orient":"horizontal","size":7,"thickness":1.3,"opacity":1},"encoding":{"x":{"field":"h","type":"quantitative","title":"HPI"},"fill":{"field":"s","type":"nominal","legend":null,"scale":{"domain":["Mock","WT","DUBmut","EndoUmut"]}}}},
     {"transform":[{"filter":"datum.k=='e'"}],"mark":{"type":"tick","orient":"horizontal","size":7,"thickness":1.3,"opacity":1},"encoding":{"x":{"field":"h","type":"quantitative","title":"HPI"},"y":{"field":"v2","type":"quantitative","title":"Normalized Read Counts"},"fill":{"field":"s","type":"nominal","legend":null,"scale":{"domain":["Mock","WT","DUBmut","EndoUmut"]}}}},
     {"transform":[{"filter":"datum.k=='p'"}],"mark":{"type":"point","filled":true,"size":40,"stroke":"black","strokeWidth":0.8,"opacity":1},"encoding":{"x":{"field":"h","type":"quantitative","title":"HPI"},"color":{"field":"s","type":"nominal","title":null,"scale":{"domain":["Mock","WT","DUBmut","EndoUmut"]}},"shape":{"field":"s","type":"nominal","title":null,"scale":{"domain":["Mock","WT","DUBmut","EndoUmut"]}}}},
     {"transform":[{"filter":"datum.k=='b'"}],"mark":{"type":"rule","color":"#444"},"encoding":{"x":{"datum":12.9,"type":"quantitative"},"y2":{"field":"v2"}}},
     {"transform":[{"filter":"datum.k=='b'"}],"mark":{"type":"rule","color":"#444"},"encoding":{"x":{"datum":12.55,"type":"quantitative"},"x2":{"datum":12.9}}},
     {"transform":[{"filter":"datum.k=='b'"}],"mark":{"type":"rule","color":"#444"},"encoding":{"x":{"datum":12.55,"type":"quantitative"},"x2":{"datum":12.9},"y":{"field":"v2","type":"quantitative","title":"Normalized Read Counts"}}},
     {"transform":[{"filter":"datum.k=='b'"}],"mark":{"type":"text","angle":90,"fontSize":11,"fontWeight":"bold","color":"#444"},"encoding":{"x":{"datum":13.4,"type":"quantitative"},"y":{"field":"m","type":"quantitative","title":"Normalized Read Counts"},"text":{"field":"lab"}}}
    ]}
   ]},
   {"spacing":1,"hconcat":[
   {"width":121,"height":100,"title":{"text":"Cx3cl1","offset":-8.5},"data":{"name":"L"},"transform":[{"filter":"datum.g=='Cx3cl1'"}],
    "encoding":{"y":{"field":"v","type":"quantitative","scale":{"domain":[0,500],"range":[97,6],"nice":false},"axis":{"values":[0,100,200,300,400,500],"labelExpr":"format(datum.value,',')","title":"Normalized Read Counts"}}},
    "layer":[
     {"transform":[{"filter":"datum.k=='p'"}],"mark":{"type":"line","strokeWidth":1.5},"encoding":{"x":{"field":"h","type":"quantitative","scale":{"domain":[0,13],"nice":false,"zero":false},"axis":{"values":[3,6,9,12],"title":"HPI","offset":-3}},"stroke":{"field":"s","type":"nominal","legend":null,"scale":{"domain":["Mock","WT","DUBmut","EndoUmut"]}}}},
     {"transform":[{"filter":"datum.k=='e'"}],"mark":{"type":"rule","strokeWidth":1.3},"encoding":{"x":{"field":"h","type":"quantitative","title":"HPI"},"y2":{"field":"v2"},"stroke":{"field":"s","type":"nominal","legend":null,"scale":{"domain":["Mock","WT","DUBmut","EndoUmut"]}}}},
     {"transform":[{"filter":"datum.k=='e'"}],"mark":{"type":"tick","orient":"horizontal","size":7,"thickness":1.3,"opacity":1},"encoding":{"x":{"field":"h","type":"quantitative","title":"HPI"},"fill":{"field":"s","type":"nominal","legend":null,"scale":{"domain":["Mock","WT","DUBmut","EndoUmut"]}}}},
     {"transform":[{"filter":"datum.k=='e'"}],"mark":{"type":"tick","orient":"horizontal","size":7,"thickness":1.3,"opacity":1},"encoding":{"x":{"field":"h","type":"quantitative","title":"HPI"},"y":{"field":"v2","type":"quantitative","title":"Normalized Read Counts"},"fill":{"field":"s","type":"nominal","legend":null,"scale":{"domain":["Mock","WT","DUBmut","EndoUmut"]}}}},
     {"transform":[{"filter":"datum.k=='p'"}],"mark":{"type":"point","filled":true,"size":40,"stroke":"black","strokeWidth":0.8,"opacity":1},"encoding":{"x":{"field":"h","type":"quantitative","title":"HPI"},"color":{"field":"s","type":"nominal","title":null,"scale":{"domain":["Mock","WT","DUBmut","EndoUmut"]}},"shape":{"field":"s","type":"nominal","title":null,"scale":{"domain":["Mock","WT","DUBmut","EndoUmut"]}}}},
     {"transform":[{"filter":"datum.k=='b'"}],"mark":{"type":"rule","color":"#444"},"encoding":{"x":{"datum":13.2,"type":"quantitative"},"y2":{"field":"v2"}}},
     {"transform":[{"filter":"datum.k=='b'"}],"mark":{"type":"rule","color":"#444"},"encoding":{"x":{"datum":12.85,"type":"quantitative"},"x2":{"datum":13.2}}},
     {"transform":[{"filter":"datum.k=='b'"}],"mark":{"type":"rule","color":"#444"},"encoding":{"x":{"datum":12.85,"type":"quantitative"},"x2":{"datum":13.2},"y":{"field":"v2","type":"quantitative","title":"Normalized Read Counts"}}},
     {"transform":[{"filter":"datum.k=='b'"}],"mark":{"type":"text","angle":90,"fontSize":11,"fontWeight":"bold","color":"#444"},"encoding":{"x":{"datum":13.9,"type":"quantitative"},"y":{"field":"m","type":"quantitative","title":"Normalized Read Counts"},"text":{"field":"lab"}}}
    ]},
   {"width":121,"height":100,"title":{"text":"Cxcl3","offset":-11},"data":{"name":"L"},"transform":[{"filter":"datum.g=='Cxcl3'"}],
    "encoding":{"y":{"field":"v","type":"quantitative","scale":{"domain":[0,600],"range":[100,10],"nice":false},"axis":{"values":[0,200,400,600],"labelExpr":"format(datum.value,',')","title":"Normalized Read Counts"}}},
    "layer":[
     {"transform":[{"filter":"datum.k=='p'"}],"mark":{"type":"line","strokeWidth":1.5},"encoding":{"x":{"field":"h","type":"quantitative","scale":{"domain":[0,13],"nice":false,"zero":false},"axis":{"values":[3,6,9,12],"title":"HPI"}},"stroke":{"field":"s","type":"nominal","legend":null,"scale":{"domain":["Mock","WT","DUBmut","EndoUmut"]}}}},
     {"transform":[{"filter":"datum.k=='e'"}],"mark":{"type":"rule","strokeWidth":1.3},"encoding":{"x":{"field":"h","type":"quantitative","title":"HPI"},"y2":{"field":"v2"},"stroke":{"field":"s","type":"nominal","legend":null,"scale":{"domain":["Mock","WT","DUBmut","EndoUmut"]}}}},
     {"transform":[{"filter":"datum.k=='e'"}],"mark":{"type":"tick","orient":"horizontal","size":7,"thickness":1.3,"opacity":1},"encoding":{"x":{"field":"h","type":"quantitative","title":"HPI"},"fill":{"field":"s","type":"nominal","legend":null,"scale":{"domain":["Mock","WT","DUBmut","EndoUmut"]}}}},
     {"transform":[{"filter":"datum.k=='e'"}],"mark":{"type":"tick","orient":"horizontal","size":7,"thickness":1.3,"opacity":1},"encoding":{"x":{"field":"h","type":"quantitative","title":"HPI"},"y":{"field":"v2","type":"quantitative","title":"Normalized Read Counts"},"fill":{"field":"s","type":"nominal","legend":null,"scale":{"domain":["Mock","WT","DUBmut","EndoUmut"]}}}},
     {"transform":[{"filter":"datum.k=='p'"}],"mark":{"type":"point","filled":true,"size":40,"stroke":"black","strokeWidth":0.8,"opacity":1},"encoding":{"x":{"field":"h","type":"quantitative","title":"HPI"},"color":{"field":"s","type":"nominal","title":null,"scale":{"domain":["Mock","WT","DUBmut","EndoUmut"]}},"shape":{"field":"s","type":"nominal","title":null,"scale":{"domain":["Mock","WT","DUBmut","EndoUmut"]}}}},
     {"transform":[{"filter":"datum.k=='b'"}],"mark":{"type":"rule","color":"#444"},"encoding":{"x":{"datum":12.5,"type":"quantitative"},"y2":{"field":"v2"}}},
     {"transform":[{"filter":"datum.k=='b'"}],"mark":{"type":"rule","color":"#444"},"encoding":{"x":{"datum":12.15,"type":"quantitative"},"x2":{"datum":12.5}}},
     {"transform":[{"filter":"datum.k=='b'"}],"mark":{"type":"rule","color":"#444"},"encoding":{"x":{"datum":12.15,"type":"quantitative"},"x2":{"datum":12.5},"y":{"field":"v2","type":"quantitative","title":"Normalized Read Counts"}}},
     {"transform":[{"filter":"datum.k=='b'"}],"mark":{"type":"text","angle":90,"fontSize":11,"fontWeight":"bold","color":"#444"},"encoding":{"x":{"datum":13.05,"type":"quantitative"},"y":{"field":"m","type":"quantitative","title":"Normalized Read Counts"},"text":{"field":"lab"}}}
    ]}
   ]}
  ]}
 ]}
],
"config":{
 "font":"Liberation Sans",
 "view":{"stroke":null},
 "axis":{"labelFontWeight":"bold","titleFontWeight":"bold","labelColor":"black","titleColor":"black","domainColor":"black","tickColor":"black","grid":false,"labelFontSize":11,"titleFontSize":11.5,"domainWidth":1.5,"tickWidth":1.5,"tickSize":4,"labelPadding":2,"titlePadding":2},
 "axisY":{"labelFontSize":8.5,"titleFontSize":9,"titlePadding":1},
 "title":{"fontSize":13,"fontStyle":"italic","fontWeight":"bold","font":"Liberation Sans","color":"black"},
 "range":{"category":["#000000","#2f4fb0","#6cc04a","#ec2026"],"symbol":["triangle-down","square","triangle-up","circle"]},
 "legend":{"orient":"none","legendX":195,"legendY":620,"direction":"horizontal","labelFont":"Liberation Sans","labelFontSize":13,"labelFontWeight":"bold","labelColor":"black","symbolStrokeColor":"black","symbolStrokeWidth":1,"symbolSize":60,"columnPadding":12}
}
}
